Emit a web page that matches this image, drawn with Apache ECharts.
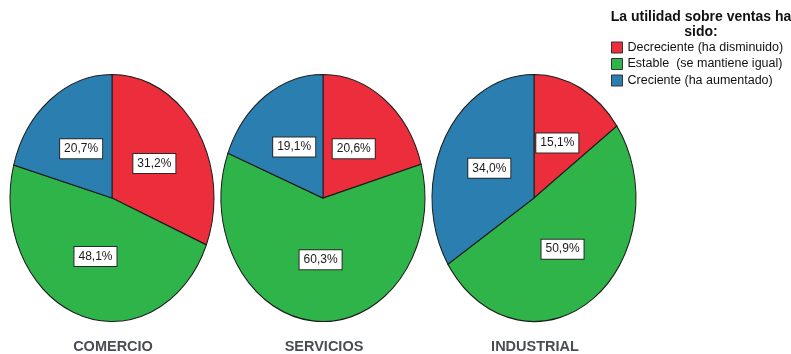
<!DOCTYPE html>
<html>
<head>
<meta charset="utf-8">
<script src="https://cdn.jsdelivr.net/npm/echarts@6/dist/echarts.min.js"></script>
<style>
  html, body { margin: 0; padding: 0; background: #ffffff; }
  #chart { width: 791px; height: 354px; }
</style>
</head>
<body>
<div id="chart"></div>
<script>
// Sector groups, one pie each
const sectors = ['COMERCIO', 'SERVICIOS', 'INDUSTRIAL'];

// Answer categories (legend) and their shares per sector, in %
const categories = ['Decreciente (ha disminuido)', 'Estable  (se mantiene igual)', 'Creciente (ha aumentado)'];
const decreciente = [31.2, 20.6, 15.1];
const estable = [48.1, 60.3, 50.9];
const creciente = [20.7, 19.1, 34.0];

const legendTitle = ['La utilidad sobre ventas ha', 'sido:'];

const seriesValues = [decreciente, estable, creciente];
const colors = ['#ec2d3b', '#2fb44a', '#2a7eb0'];

// Pie layout (pixels): ellipse centres and radii
const pieCx = [112, 323, 534];
const pieCy = 198;
const rx = 102;
const ry = 123.5;

const FONT = '"Liberation Sans", Arial, sans-serif';

function fmt(v) {
  return v.toFixed(1).replace('.', ',') + '%';
}

function makeRender(k) {
  return function (params, api) {
    const i = params.dataIndex;
    const v = api.value(1);
    let before = 0;
    for (let j = 0; j < k; j++) before += seriesValues[j][i];
    const total = seriesValues.reduce((s, arr) => s + arr[i], 0);
    const a0 = -Math.PI / 2 + (before / total) * Math.PI * 2;
    const a1 = a0 + (v / total) * Math.PI * 2;
    const mid = (a0 + a1) / 2;
    const cx = pieCx[i];
    const cy = pieCy;
    const lx = cx + 0.5 * rx * Math.cos(mid);
    const ly = cy + 0.5 * ry * Math.sin(mid);
    return {
      type: 'group',
      children: [
        {
          type: 'sector',
          shape: { cx: cx, cy: cy, r: rx, r0: 0, startAngle: a0, endAngle: a1, clockwise: true },
          originX: cx,
          originY: cy,
          scaleY: ry / rx,
          strokeNoScale: true,
          style: { fill: api.visual('color'), stroke: '#1c1c1c', lineWidth: 1 }
        },
        {
          type: 'text',
          x: lx,
          y: ly,
          z2: 10,
          style: {
            text: fmt(v),
            font: '12px ' + FONT,
            fill: '#1a1a1a',
            align: 'center',
            verticalAlign: 'middle',
            backgroundColor: '#ffffff',
            borderColor: '#2a2a2a',
            borderWidth: 1,
            padding: [4, 4, 3, 4]
          }
        }
      ]
    };
  };
}

const chart = echarts.init(document.getElementById('chart'), null, { renderer: 'canvas' });

const graphics = sectors.map((name, i) => ({
  type: 'text',
  x: pieCx[i] + 1,
  y: 347,
  style: {
    text: name,
    font: 'bold 14.5px ' + FONT,
    fill: '#4a4d52',
    align: 'center',
    verticalAlign: 'middle'
  }
}));
legendTitle.forEach((line, n) => {
  graphics.push({
    type: 'text',
    x: 701,
    y: 17 + n * 15,
    style: {
      text: line,
      font: 'bold 14px ' + FONT,
      fill: '#111111',
      align: 'center',
      verticalAlign: 'middle'
    }
  });
});

chart.setOption({
  backgroundColor: '#ffffff',
  animation: false,
  color: colors,
  legend: {
    orient: 'vertical',
    left: 606,
    top: 36,
    itemWidth: 11,
    itemHeight: 11,
    itemGap: 3.5,
    selectedMode: false,
    icon: 'rect',
    itemStyle: { borderColor: '#333333', borderWidth: 1 },
    textStyle: { fontSize: 12.5, fontFamily: FONT, color: '#111111', lineHeight: 12 },
    data: categories
  },
  graphic: graphics,
  series: categories.map((name, k) => ({
    type: 'custom',
    name: name,
    coordinateSystem: 'none',
    renderItem: makeRender(k),
    itemStyle: { color: colors[k] },
    data: seriesValues[k].map((v, i) => [i, v])
  }))
});
</script>
</body>
</html>
